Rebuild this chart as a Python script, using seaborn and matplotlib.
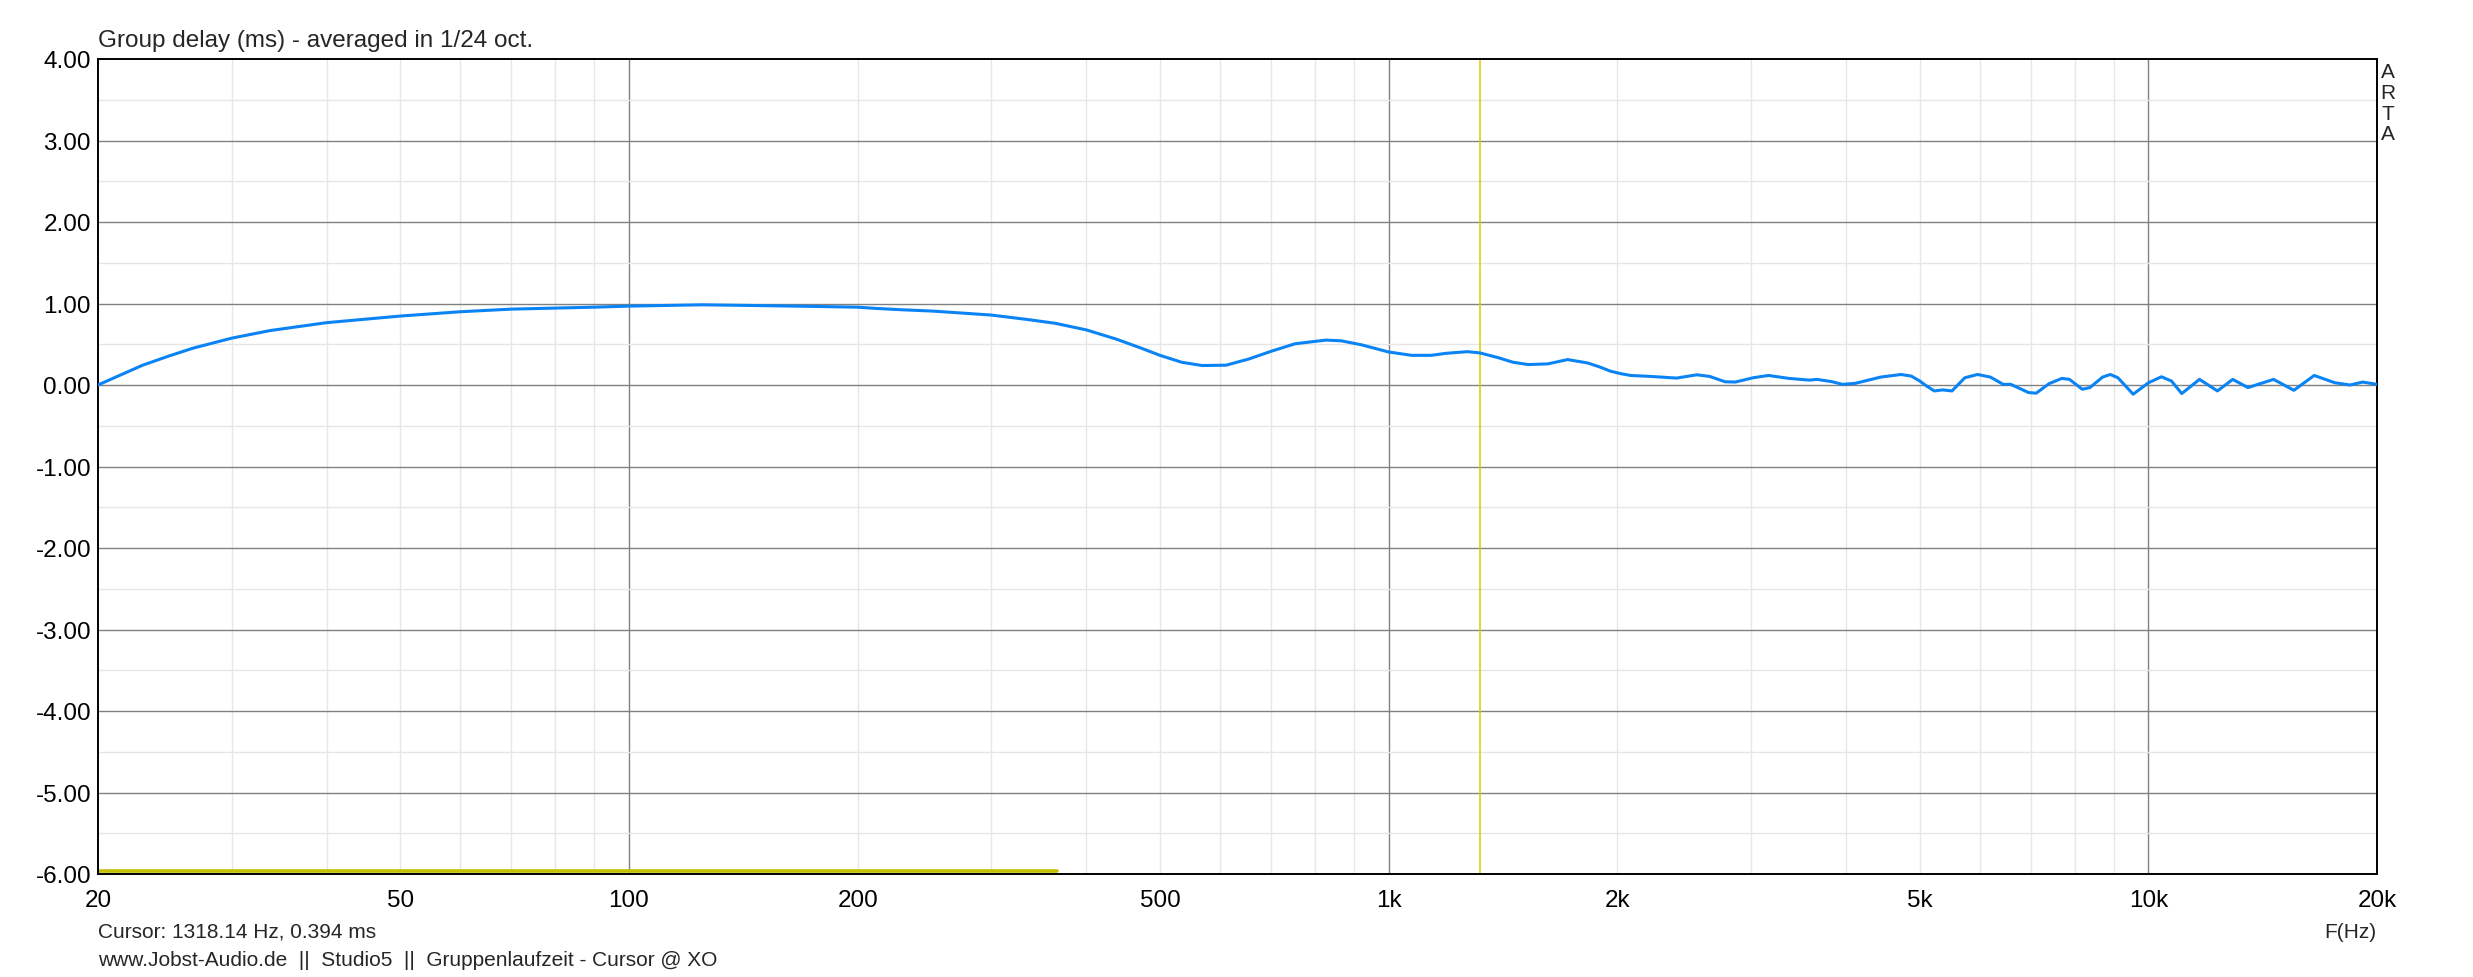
import numpy as np
import pandas as pd
import matplotlib
matplotlib.use("Agg")
import matplotlib.pyplot as plt
import seaborn as sns

sns.set_style("white")
plt.rcParams['font.family'] = ['Liberation Sans', 'DejaVu Sans']

# group delay trace (Hz, ms)
freq = [20, 21.2, 22.9, 24.8, 26.7, 30, 33.7, 40, 50, 60, 70, 90, 100, 125, 147,
        170, 200, 212, 229, 251, 274, 300, 337, 364, 400, 438, 472, 500, 534, 568,
        611, 655, 700, 753, 827, 866, 920, 1000, 1072, 1138, 1191, 1270, 1318,
        1393, 1458, 1526, 1620, 1720, 1827, 1898, 1958, 2019, 2082, 2215, 2393,
        2545, 2646, 2772, 2859, 3019, 3162, 3364, 3579, 3663, 3836, 3956, 4113,
        4443, 4726, 4876, 5000, 5106, 5227, 5360, 5515, 5734, 5961, 6197, 6440,
        6590, 6957, 7120, 7401, 7694, 7875, 8185, 8376, 8706, 8911, 9120, 9551,
        10006, 10405, 10729, 11066, 11679, 12330, 12916, 13527, 14617, 15545,
        16535, 17595, 18430, 19151, 20000]
delay = [0.0, 0.105, 0.243, 0.356, 0.453, 0.575, 0.668, 0.765, 0.846, 0.899, 0.931,
         0.955, 0.968, 0.984, 0.975, 0.966,
         0.955, 0.939, 0.923, 0.907, 0.883, 0.858, 0.80, 0.757, 0.676, 0.563, 0.453,
         0.364, 0.279, 0.239, 0.243, 0.32, 0.413, 0.506, 0.551, 0.542, 0.494, 0.405,
         0.364, 0.364, 0.389, 0.409, 0.394, 0.336, 0.279, 0.251, 0.259, 0.312,
         0.271, 0.22, 0.17, 0.14, 0.117, 0.105, 0.085, 0.125, 0.105, 0.04, 0.036,
         0.089, 0.117, 0.081, 0.06, 0.069, 0.04, 0.008, 0.02, 0.097, 0.129, 0.109,
         0.05, -0.012, -0.073, -0.06, -0.073, 0.089, 0.129, 0.097, 0.008, 0.008,
         -0.093, -0.10, 0.016, 0.081, 0.069, -0.052, -0.032, 0.097, 0.129, 0.089,
         -0.113, 0.028, 0.101, 0.048, -0.105, 0.069, -0.073, 0.069, -0.032, 0.069,
         -0.065, 0.117, 0.028, 0.0, 0.036, 0.008]

# second (yellow) trace at the bottom edge
low_freq = [20, 366]
low_val = [-5.96, -5.96]

cursor_hz = 1318.14
cursor_ms = 0.394

x_ticks = [20, 50, 100, 200, 500, 1000, 2000, 5000, 10000, 20000]
x_labels = ['20', '50', '100', '200', '500', '1k', '2k', '5k', '10k', '20k']
y_ticks = [4, 3, 2, 1, 0, -1, -2, -3, -4, -5, -6]

df = pd.DataFrame({'f': freq, 'gd': delay})
df_low = pd.DataFrame({'f': low_freq, 'gd': low_val})

W, H = 2473, 978
fig = plt.figure(figsize=(W / 100, H / 100), dpi=100)
ax = fig.add_axes([98 / W, 1 - 875 / H, (2377 - 98) / W, (875 - 60) / H])

ax.set_xscale('log')
ax.set_xlim(20, 20000)
ax.set_ylim(-6, 4)

light = '#e6e6e6'
dark = '#808080'
# vertical grid: 1..9 per decade, decades darker
for dec in [10, 100, 1000, 10000]:
    for m in range(1, 10):
        f = dec * m
        if 20 < f < 20000:
            ax.axvline(f, color=dark if m == 1 else light, lw=1, zorder=0)
for v in np.arange(-5.5, 4, 1.0):
    ax.axhline(v, color=light, lw=1, zorder=0)
for v in y_ticks[1:-1]:
    ax.axhline(v, color=dark, lw=1, zorder=0.5)

sns.lineplot(data=df_low, x='f', y='gd', ax=ax, color='#c4c000', lw=2.6, zorder=2)
ax.axvline(cursor_hz, color='#d6cc00', lw=1.1, zorder=2)
sns.lineplot(data=df, x='f', y='gd', ax=ax, color='#0a84f5', lw=2.2, zorder=3)

fs = 17.5
fs_small = 15
ax.set_xticks(x_ticks)
ax.set_xticklabels(x_labels)
ax.xaxis.set_minor_locator(matplotlib.ticker.NullLocator())
ax.set_yticks(y_ticks)
ax.set_yticklabels([f'{v:.2f}' for v in y_ticks])
ax.tick_params(axis='both', length=0, labelsize=fs, colors='black')
ax.tick_params(axis='x', pad=11)
ax.tick_params(axis='y', pad=5)
ax.set_xlabel('')
ax.set_ylabel('')
for s in ax.spines.values():
    s.set_color('black')
    s.set_linewidth(1.4)

fig.text(98 / W, 1 - 47 / H, 'Group delay (ms) - averaged in 1/24 oct.',
         fontsize=fs, ha='left', va='baseline')
fig.text(98 / W, 1 - 932 / H, f'Cursor: {cursor_hz:.2f} Hz, {cursor_ms:.3f} ms',
         fontsize=fs_small, ha='left', va='center')
fig.text(98 / W, 1 - 961 / H,
         'www.Jobst-Audio.de  ||  Studio5  ||  Gruppenlaufzeit - Cursor @ XO',
         fontsize=fs_small, ha='left', va='center')
fig.text(2376 / W, 1 - 933 / H, 'F(Hz)', fontsize=fs_small, ha='right', va='center')
fig.text(2388 / W, 1 - 63 / H, 'A\nR\nT\nA', fontsize=fs_small, ha='center',
         va='top', linespacing=1.12)

fig.savefig('out.png', dpi=100)
